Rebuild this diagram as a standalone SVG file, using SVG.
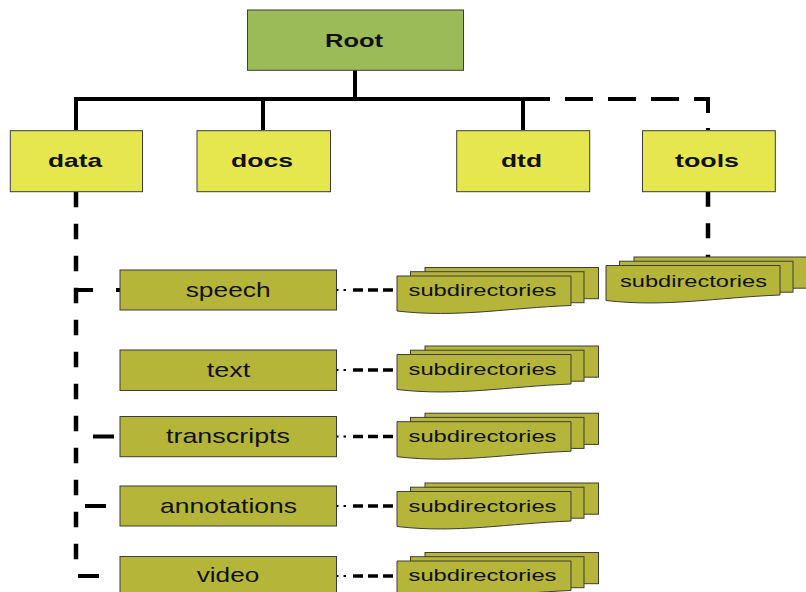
<svg xmlns="http://www.w3.org/2000/svg" width="806" height="592" viewBox="0 0 806 592">
  <style>
    .root { fill: #9BBB59; stroke: #3c3c3c; stroke-width: 1; }
    .top { fill: #E6E64E; stroke: #3c3c3c; stroke-width: 1; }
    .sub { fill: #B5B53A; stroke: #3c3c3c; stroke-width: 1; }
    .card { fill: #B5B53A; stroke: #3c3c3c; stroke-width: 1; }
    .lbl-top { font-family: "Liberation Sans", Arial, sans-serif; font-weight: bold; font-size: 18.5px; fill: #111; }
    .lbl { font-family: "Liberation Sans", Arial, sans-serif; font-size: 21px; fill: #111; }
    .lbl-dir { font-family: "Liberation Sans", Arial, sans-serif; font-size: 16.5px; fill: #111; }
    .solid { stroke: #000; stroke-width: 4; fill: none; }
    .dash { stroke: #000; stroke-width: 4.5; fill: none; }
    .link { stroke: #000; stroke-width: 3.5; fill: none; stroke-dasharray: 10 5; }
    .dot { stroke: #000; stroke-width: 2; fill: none; }
  </style>
  <defs>
    <!-- stacked "subdirectories" document shape, front card at origin -->
    <g id="stack">
      <rect class="card" x="28" y="-8.5" width="173.5" height="31.2"/>
      <rect class="card" x="13.5" y="-4.3" width="173.5" height="31"/>
      <path class="card" d="M0,0 H174 V29.5 C110,32 60,42 0,35 Z"/>
    </g>
  </defs>

  <rect width="806" height="592" fill="#fff"/>

  <!-- connectors -->
  <g id="connectors">
    <!-- root to first level -->
    <path class="solid" d="M355,70 V99 M74,99 H525 M76,99 V130 M263,99 V130 M523,99 V130"/>
    <path class="solid" d="M525,99 H708 V130" stroke-dasharray="28 15" stroke-dashoffset="3"/>
    <path class="dash" d="M708,191.7 V258" stroke-dasharray="15 16.5"/>
    <!-- data branch -->
    <path class="dash" d="M76,191.7 V561" stroke-dasharray="15.5 16.5"/>
    <path class="solid" d="M76,290 H93 M116,290 H120"/>
    <path class="solid" d="M93,436.5 H114"/>
    <path class="solid" d="M85,506 H106"/>
    <path class="solid" d="M78,576 H99"/>
    <!-- folders to subdirectories -->
    <g id="sub-links">
      <path class="dot" d="M336,290 H338.5 M343.5,290 H346"/>
      <path class="link" d="M353,290 H397"/>
      <path class="dot" d="M336,370 H338.5 M343.5,370 H346"/>
      <path class="link" d="M353,370 H397"/>
      <path class="dot" d="M336,436.5 H338.5 M343.5,436.5 H346"/>
      <path class="link" d="M353,436.5 H397"/>
      <path class="dot" d="M336,506 H338.5 M343.5,506 H346"/>
      <path class="link" d="M353,506 H397"/>
      <path class="dot" d="M336,576 H338.5 M343.5,576 H346"/>
      <path class="link" d="M353,576 H397"/>
    </g>
  </g>

  <!-- top levels -->
  <g id="root">
    <rect class="root" x="247.5" y="10" width="216" height="60.3"/>
    <text class="lbl-top" x="325" y="46.7" textLength="58" lengthAdjust="spacingAndGlyphs">Root</text>
  </g>
  <g id="data">
    <rect class="top" x="10.3" y="130.7" width="132.2" height="61"/>
    <text class="lbl-top" x="48" y="166.7" textLength="54" lengthAdjust="spacingAndGlyphs">data</text>
  </g>
  <g id="docs">
    <rect class="top" x="197" y="130.7" width="133.5" height="61"/>
    <text class="lbl-top" x="231" y="166.7" textLength="62" lengthAdjust="spacingAndGlyphs">docs</text>
  </g>
  <g id="dtd">
    <rect class="top" x="456.7" y="130.7" width="133" height="61"/>
    <text class="lbl-top" x="501" y="166.7" textLength="41" lengthAdjust="spacingAndGlyphs">dtd</text>
  </g>
  <g id="tools">
    <rect class="top" x="642.5" y="130.7" width="132.8" height="61"/>
    <text class="lbl-top" x="675" y="166.7" textLength="64" lengthAdjust="spacingAndGlyphs">tools</text>
  </g>

  <!-- data sub-folders -->
  <g id="speech">
    <rect class="sub" x="120" y="270" width="216.5" height="40"/>
    <text class="lbl" x="185.7" y="297.3" textLength="85" lengthAdjust="spacingAndGlyphs">speech</text>
  </g>
  <g id="text">
    <rect class="sub" x="120" y="350" width="216.5" height="40.5"/>
    <text class="lbl" x="206.7" y="376.7" textLength="43.5" lengthAdjust="spacingAndGlyphs">text</text>
  </g>
  <g id="transcripts">
    <rect class="sub" x="120" y="416.5" width="216.5" height="40.2"/>
    <text class="lbl" x="166" y="442.7" textLength="124" lengthAdjust="spacingAndGlyphs">transcripts</text>
  </g>
  <g id="annotations">
    <rect class="sub" x="120" y="486" width="216.5" height="40"/>
    <text class="lbl" x="160" y="512.7" textLength="137" lengthAdjust="spacingAndGlyphs">annotations</text>
  </g>
  <g id="video">
    <rect class="sub" x="120" y="556.5" width="216.5" height="40"/>
    <text class="lbl" x="196.7" y="582" textLength="62.6" lengthAdjust="spacingAndGlyphs">video</text>
  </g>

  <!-- subdirectory stacks -->
  <g id="speech-subdirs">
    <use href="#stack" x="397" y="276"/>
    <text class="lbl-dir" x="408.5" y="296" textLength="148" lengthAdjust="spacingAndGlyphs">subdirectories</text>
  </g>
  <g id="text-subdirs">
    <use href="#stack" x="397" y="354.5"/>
    <text class="lbl-dir" x="408.5" y="374.5" textLength="148" lengthAdjust="spacingAndGlyphs">subdirectories</text>
  </g>
  <g id="transcripts-subdirs">
    <use href="#stack" x="397" y="421.7"/>
    <text class="lbl-dir" x="408.5" y="441.7" textLength="148" lengthAdjust="spacingAndGlyphs">subdirectories</text>
  </g>
  <g id="annotations-subdirs">
    <use href="#stack" x="397" y="491.5"/>
    <text class="lbl-dir" x="408.5" y="511.5" textLength="148" lengthAdjust="spacingAndGlyphs">subdirectories</text>
  </g>
  <g id="video-subdirs">
    <use href="#stack" x="397" y="561"/>
    <text class="lbl-dir" x="408.5" y="581" textLength="148" lengthAdjust="spacingAndGlyphs">subdirectories</text>
  </g>
  <g id="tools-subdirs">
    <use href="#stack" x="606" y="265.5"/>
    <text class="lbl-dir" x="620" y="286.5" textLength="147" lengthAdjust="spacingAndGlyphs">subdirectories</text>
  </g>
</svg>
